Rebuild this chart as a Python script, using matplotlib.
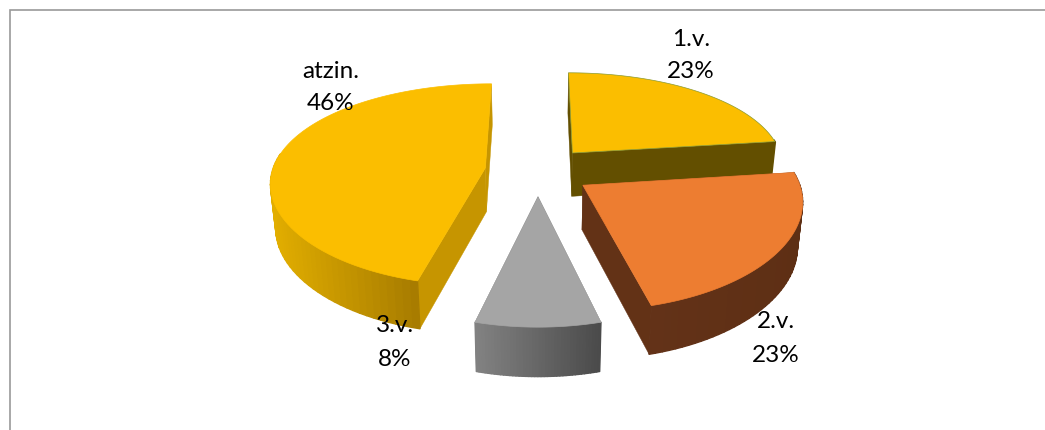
import numpy as np
import matplotlib
matplotlib.use("Agg")
import matplotlib.pyplot as plt
from matplotlib.collections import PolyCollection
from matplotlib.colors import to_rgb
from matplotlib.patches import Polygon

# data
categories = ["1.v.", "2.v.", "3.v.", "atzin."]
values = [23, 23, 8, 46]

# styles
top_colors = ["#FBBE00", "#ED7D31", "#A5A5A5", "#FBBE00"]
cut_colors = ["#634F00", "#633216", "#777777", "#C69500"]
rim_left = ["#634F00", "#633218", "#828282", "#E2AE00"]
rim_right = ["#634F00", "#5E2F14", "#4A4A4A", "#A67B00"]
edge_colors = ["#8A9A30", "none", "none", "none"]
label_pos = [(691, 39, 72), (776, 322, 355), (395, 326, 360), (331, 71, 104)]
draw_order = [0, 3, 1, 2]

# projection of the tilted disc (pixels)
CX, CY = 538, 171
R, RT = 213, 99.0
PERSP_X = 0.13
PERSP_Y = 0.166
EXPLODE = 0.25
DEPTH = 44
SHRINK = 0.98


def project(x, y, bottom=False):
    sx = 1 / (1 + PERSP_X * y)
    sy = 1 / (1 + PERSP_Y * y)
    px = CX + R * x * sx
    py = CY - RT * y * sy
    if bottom:
        px = CX + (px - CX) * SHRINK
        py = py + DEPTH * np.sqrt(sy)
    return px, py


fig = plt.figure(figsize=(10.45, 4.3), dpi=100)
ax = fig.add_axes([0, 0, 1, 1])
ax.axis("off")

# chart frame
ax.plot([9.5, 9.5, 1045], [430, 9.5, 9.5], color="#9A9A9A", lw=1.2, solid_joinstyle="miter")

fractions = np.array(values, dtype=float) / sum(values)
edges = np.concatenate([[0], np.cumsum(fractions)]) * 2 * np.pi

for order, i in enumerate(draw_order):
    z = 2 + order
    a0, a1 = edges[i], edges[i + 1]
    mid = (a0 + a1) / 2
    ax_x, ax_y = EXPLODE * np.sin(mid), EXPLODE * np.cos(mid)
    ang = np.linspace(a0, a1, 480)
    ox, oy = ax_x + np.sin(ang), ax_y + np.cos(ang)
    tx, ty = project(ox, oy)
    bx, by = project(ox, oy, bottom=True)
    apx, apy = project(ax_x, ax_y)
    apbx, apby = project(ax_x, ax_y, bottom=True)

    # cut faces
    for j in (0, -1):
        ax.add_patch(Polygon([(tx[j], ty[j]), (apx, apy), (apbx, apby), (bx[j], by[j])],
                             closed=True, fc=cut_colors[i], ec=cut_colors[i], lw=0.3, zorder=z))

    # outer rim, shaded across its visible width; overlapping strips avoid seams
    vis = np.where(np.cos(ang) < 0.15)[0]
    if len(vis) > 1:
        xmin, xmax = bx[vis].min(), bx[vis].max()
        c0, c1 = np.array(to_rgb(rim_left[i])), np.array(to_rgb(rim_right[i]))
        step = max(1, int(np.ceil(len(vis) * 3 / max(xmax - xmin, 1))))
        idx = vis[::step]
        if idx[-1] != vis[-1]:
            idx = np.r_[idx, vis[-1]]
        quads, cols = [], []
        for k, l in zip(idx[:-1], idx[1:]):
            quads.append([(tx[k], ty[k]), (tx[l], ty[l]), (bx[l], by[l]), (bx[k], by[k])])
            f = (0.5 * (bx[k] + bx[l]) - xmin) / max(xmax - xmin, 1)
            cols.append(c0 + (c1 - c0) * f)
        ax.add_collection(PolyCollection(quads, facecolors=cols, edgecolors=cols,
                                         linewidths=1.0, zorder=z + 0.1))

    # top face
    pts = np.column_stack([np.r_[apx, tx], np.r_[apy, ty]])
    ec = edge_colors[i]
    ax.add_patch(Polygon(pts, closed=True, fc=top_colors[i],
                         ec=top_colors[i] if ec == "none" else ec, lw=0.5, zorder=z + 0.5))

for (x, y1, y2), name, v in zip(label_pos, categories, values):
    ax.text(x, y1, name, ha="center", va="center", fontsize=17.5, family="Lato", color="black", zorder=20)
    ax.text(x, y2, f"{v}%", ha="center", va="center", fontsize=17.5, family="Lato", color="black", zorder=20)

ax.set_xlim(0, 1045)
ax.set_ylim(430, 0)
fig.savefig("out.png", dpi=100)
